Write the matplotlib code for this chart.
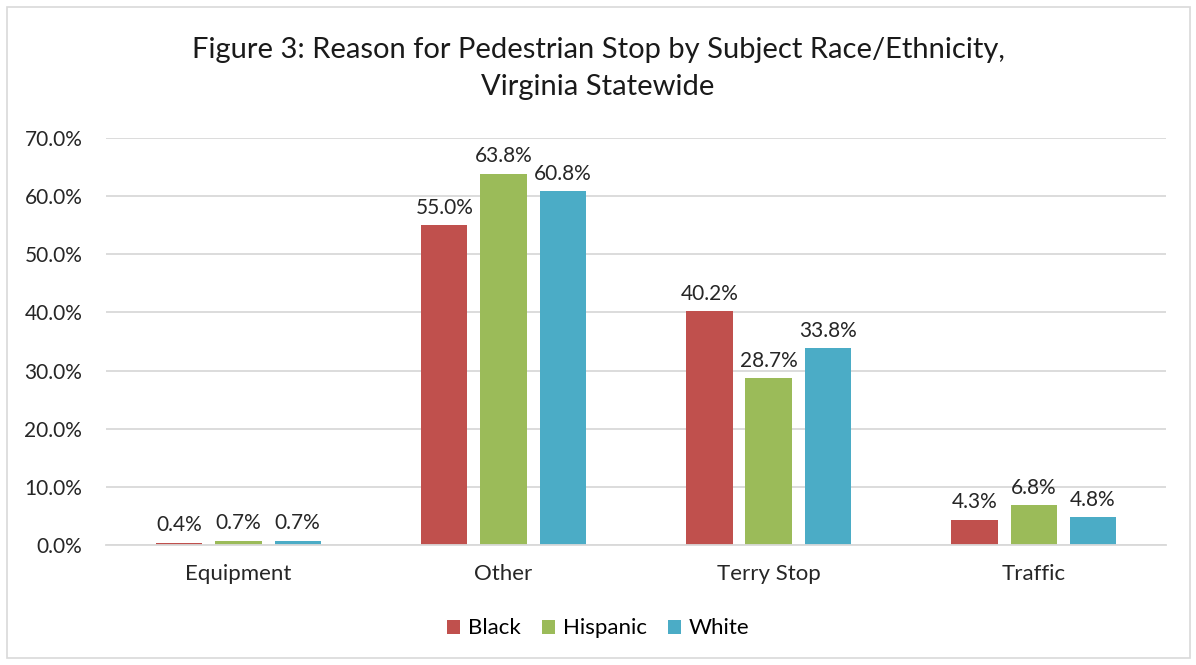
import numpy as np
import matplotlib.pyplot as plt
from matplotlib.patches import Rectangle
from matplotlib.ticker import FuncFormatter

plt.rcParams['font.family'] = ['Lato', 'DejaVu Sans']

categories = ['Equipment', 'Other', 'Terry Stop', 'Traffic']
black = [0.4, 55.0, 40.2, 4.3]
hispanic = [0.7, 63.8, 28.7, 6.8]
white = [0.7, 60.8, 33.8, 4.8]
series_names = ['Black', 'Hispanic', 'White']
colors = ['#C0504D', '#9BBB59', '#4BACC6']

fig = plt.figure(figsize=(11.96, 6.65), dpi=100)
ax = fig.add_axes([0.0886, 0.1805, 0.8864, 0.612])

x = np.arange(len(categories))
w = 0.174
step = 0.223
for i, (vals, name, c) in enumerate(zip([black, hispanic, white], series_names, colors)):
    pos = x + (i - 1) * step
    ax.bar(pos, vals, width=w, color=c, label=name, zorder=2)
    for p, v in zip(pos, vals):
        ax.text(p, v + 1.3, f'{v:.1f}%', ha='center', va='bottom', fontsize=15, color='#262626')

ax.set_xlim(-0.5, len(categories) - 0.5)
ax.set_ylim(0, 70)
ax.set_yticks(np.arange(0, 71, 10))
ax.yaxis.set_major_formatter(FuncFormatter(lambda v, _: f'{v:.1f}%'))
ax.set_xticks(x)
ax.set_xticklabels(categories)
ax.tick_params(axis='both', length=0, colors='#262626')
ax.tick_params(axis='x', pad=14, labelsize=16)
ax.tick_params(axis='y', pad=17, labelsize=15)
ax.grid(axis='y', color='#D9D9D9', linewidth=1.3, zorder=0)
for s in ['top', 'right', 'left']:
    ax.spines[s].set_visible(False)
ax.spines['bottom'].set_color('#D9D9D9')
ax.spines['bottom'].set_linewidth(1.3)

fig.text(0.5, 0.897, 'Figure 3: Reason for Pedestrian Stop by Subject Race/Ethnicity,\nVirginia Statewide',
         ha='center', va='center', fontsize=21, color='#1a1a1a', linespacing=1.5)

fig.legend(loc='center', bbox_to_anchor=(0.5, 0.055), ncol=3, frameon=False, fontsize=16,
           handlelength=0.6, handleheight=0.6, handletextpad=0.35, columnspacing=0.95)

fig.patches.append(Rectangle((7 / 1196, 7 / 665), 1183 / 1196, 651 / 665, transform=fig.transFigure,
                             fill=False, edgecolor='#D9D9D9', linewidth=1.2))

fig.savefig('out.png', dpi=100)
